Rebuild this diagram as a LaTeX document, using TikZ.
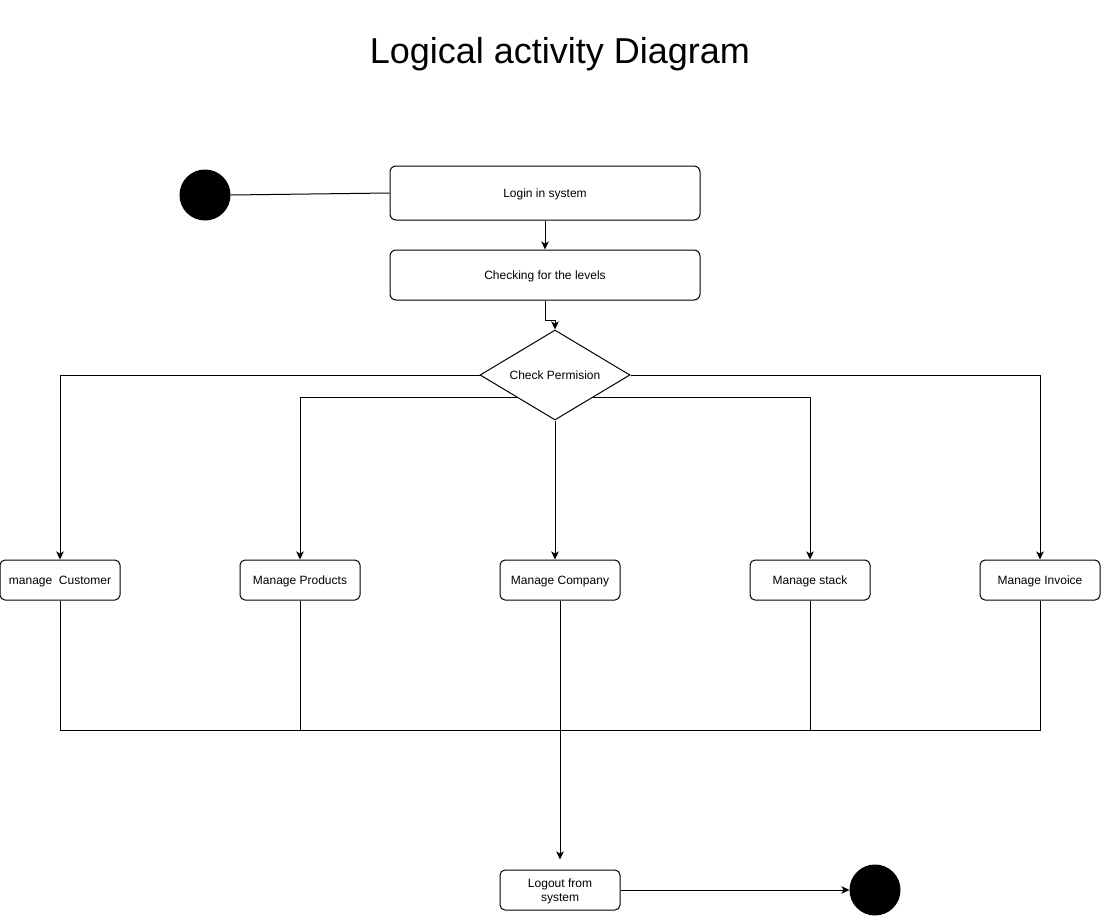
\documentclass[tikz,border=0pt]{standalone}
\usepackage{fontspec}
\setmainfont{Liberation Sans}
\usetikzlibrary{shapes.geometric,arrows.meta,calc}
\begin{document}
\begin{tikzpicture}[x=1pt,y=-1pt,line width=1pt,
  every node/.style={font=\fontsize{12}{14}\selectfont},
  actbox/.style={draw,rounded corners=6pt,inner sep=0pt,align=center},
  one/.style={text height=11pt,text depth=2pt},
  dot/.style={circle,fill=black,draw=black,minimum size=50pt,inner sep=0pt},
  arr/.style={-{Stealth[length=8pt,width=7.5pt,inset=2pt]}},
  ln/.style={-}]
\useasboundingbox (0,0) rectangle (1101,916);
\node[font=\fontsize{36}{40}\selectfont,text height=26pt,text depth=0pt] (title) at (560,50) {Logical activity Diagram};
\node[dot] (start) at (205,195) {};
\node[actbox,one,minimum width=310pt,minimum height=54pt] (login) at (545,193) {Login in system};
\node[actbox,one,minimum width=310pt,minimum height=50pt] (check) at (545,275) {Checking for the levels};
\node[draw,diamond,one,aspect=1.6667,minimum width=150pt,minimum height=90pt,inner sep=0pt] (perm) at (555,375) {Check Permision};
\node[actbox,one,rounded corners=5pt,minimum width=120pt,minimum height=40pt] (cust) at (60,580) {manage\ \ Customer};
\node[actbox,one,rounded corners=5pt,minimum width=120pt,minimum height=40pt] (prod) at (300,580) {Manage Products};
\node[actbox,one,rounded corners=5pt,minimum width=120pt,minimum height=40pt] (comp) at (560,580) {Manage Company};
\node[actbox,one,rounded corners=5pt,minimum width=120pt,minimum height=40pt] (stack) at (810,580) {Manage stack};
\node[actbox,one,rounded corners=5pt,minimum width=120pt,minimum height=40pt] (inv) at (1040,580) {Manage Invoice};
\node[actbox,rounded corners=5pt,minimum width=120pt,minimum height=40pt] (logout) at (560,890) {\rule{0pt}{11pt}Logout from\\system};
\node[dot] (end) at (875,890) {};
\coordinate (join) at (560,730);
\coordinate (lin) at ($(logout.north)+(0,-10)$);
% connectors
\draw[ln] (start.east) -- (login.west);
\draw[arr] (login.south) -- (check.north);
\draw[arr] (check.south) -- ++(0,20) -| (perm.north);
\draw[arr] (perm.west) -| (cust.north);
\draw[arr] (perm.south west) -| (prod.north);
\draw[arr] (perm.south) -- (perm.south |- comp.north);
\draw[arr] (perm.south east) -| (stack.north);
\draw[arr] (perm.east) -| (inv.north);
\draw[ln] (cust.south) |- (join);
\draw[ln] (prod.south) -- (prod.south |- join);
\draw[ln] (stack.south) -- (stack.south |- join);
\draw[ln] (inv.south) |- (join);
\draw[arr] (comp.south) -- (lin);
\draw[arr] (logout.east) -- (end.west);
\end{tikzpicture}
\end{document}
